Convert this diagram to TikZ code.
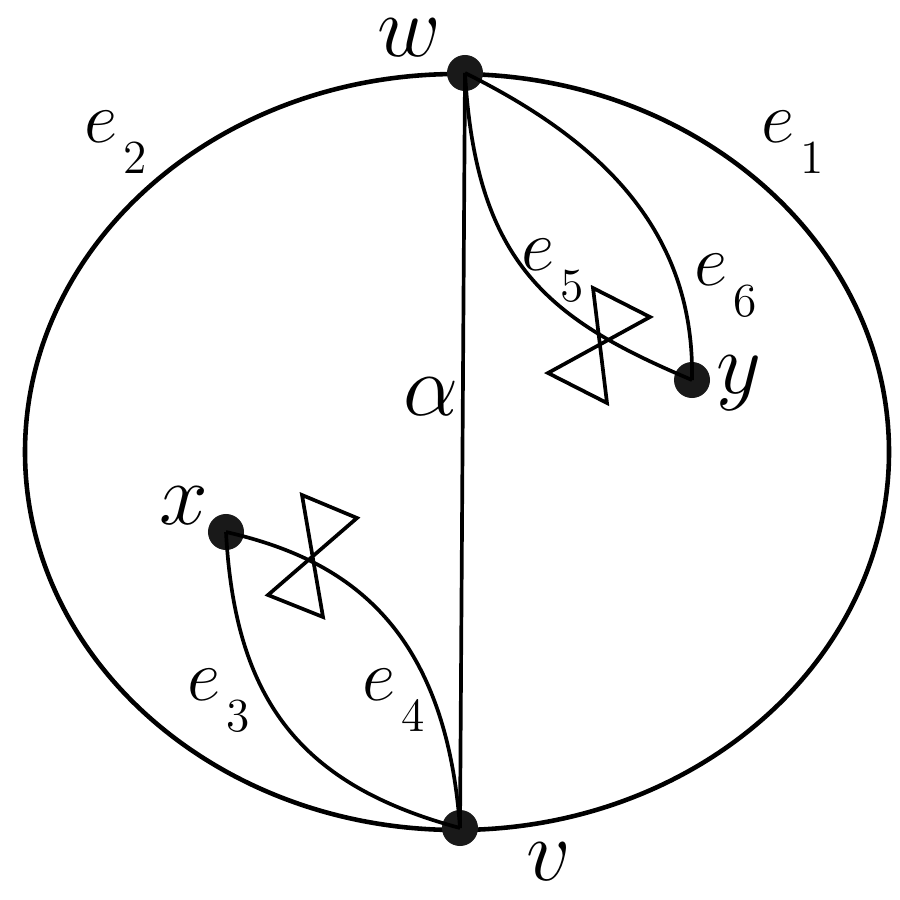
\documentclass[tikz,border=0pt]{standalone}
\usepackage{amsmath}
\newcommand\vtx[1]{{\fontsize{24}{24}\selectfont$#1$}}
\newcommand\elab[2]{{\fontsize{19.5}{19.5}\selectfont$#1$}\kern1.5pt\raisebox{-9pt}{\fontsize{13.5}{13.5}\selectfont #2}}
\begin{document}
\begin{tikzpicture}[x=0.01cm,y=-0.01cm,
  dot/.style={circle,fill=black!90,inner sep=0pt,minimum size=0.36cm},
  edge/.style={line width=1.05pt},
  outer/.style={line width=1.3pt},
  bow/.style={line width=1.05pt,line join=miter},
  lab/.style={inner sep=0pt,anchor=base west}]
\useasboundingbox (0,0) rectangle (900,900);
\draw[outer] (457,452) ellipse [x radius=432, y radius=378];
\node[dot] (w) at (465,73) {};
\node[dot] (v) at (460,828) {};
\node[dot] (y) at (692,380) {};
\node[dot] (x) at (226,532) {};
\draw[edge] (w.center) -- (v.center);
% e5, e6
\draw[edge] (w.center) .. controls (476,265) and (550,320) .. (y.center);
\draw[edge] (w.center) .. controls (600,140) and (695,230) .. (y.center);
% e3, e4
\draw[edge] (x.center) .. controls (340,558) and (445,620) .. (v.center);
\draw[edge] (x.center) .. controls (235,700) and (300,785) .. (v.center);
% bowties
\draw[bow] (593,288) -- (607,403) -- (548,373) -- (650,317) -- cycle;
\draw[bow] (302,495) -- (323,617) -- (268,595) -- (357,518) -- cycle;
% labels
\node[lab] (lw) at (377,57) {\vtx{w}};
\node[lab] (lv) at (526,880) {\vtx{v}};
\node[lab] (lx) at (159,524) {\vtx{x}};
\node[lab] (ly) at (716,393) {\vtx{y}};
\node[lab] (la) at (403,415) {\vtx{\alpha}};
\node[lab] (le1) at (761,142) {\elab{e}{1}};
\node[lab] (le2) at (84,142) {\elab{e}{2}};
\node[lab] (le3) at (187,700) {\elab{e}{3}};
\node[lab] (le4) at (362,700) {\elab{e}{4}};
\node[lab] (le5) at (521,270) {\elab{e}{5}};
\node[lab] (le6) at (694,285) {\elab{e}{6}};
\end{tikzpicture}
\end{document}
